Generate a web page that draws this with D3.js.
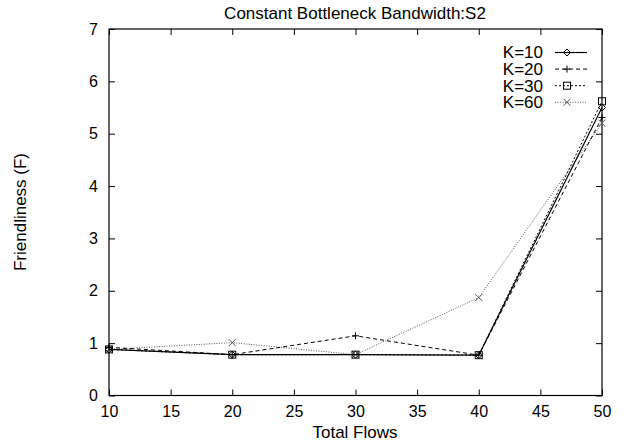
<!DOCTYPE html>
<html>
<head>
<meta charset="utf-8">
<script src="https://cdn.jsdelivr.net/npm/d3@7"></script>
<style>
  body { margin: 0; background: #fff; }
  svg text { font-family: "Liberation Sans", Arial, Helvetica, sans-serif; fill: #000; }
</style>
</head>
<body>
<svg id="chart" width="626" height="443"></svg>
<script>
// Friendliness vs. total flows, one series per K
const flows = [10, 20, 30, 40, 50];
const k10 = [0.88, 0.78, 0.78, 0.77, 5.50];
const k20 = [0.92, 0.78, 1.14, 0.77, 5.31];
const k30 = [0.88, 0.78, 0.78, 0.77, 5.62];
const k60 = [0.88, 1.01, 0.78, 1.87, 5.20];
const seriesNames = ["K=10", "K=20", "K=30", "K=60"];
const xTicks = [10, 15, 20, 25, 30, 35, 40, 45, 50];
const yTicks = [0, 1, 2, 3, 4, 5, 6, 7];

const series = [
  { name: seriesNames[0], values: k10, dash: null, color: "#000", width: 1.2, marker: "diamond" },
  { name: seriesNames[1], values: k20, dash: "4,3", color: "#000", width: 1, marker: "plus" },
  { name: seriesNames[2], values: k30, dash: "2,2", color: "#000", width: 1, marker: "square" },
  { name: seriesNames[3], values: k60, dash: "1,1.5", color: "#555", width: 1, marker: "cross" }
];

const svg = d3.select("#chart");
const plotLeft = 109, plotRight = 602, plotTop = 29, plotBottom = 395.5;

const x = d3.scaleLinear().domain([10, 50]).range([plotLeft, plotRight]);
const y = d3.scaleLinear().domain([0, 7]).range([plotBottom, plotTop]);

// frame
svg.append("rect")
  .attr("x", plotLeft).attr("y", plotTop)
  .attr("width", plotRight - plotLeft).attr("height", plotBottom - plotTop)
  .attr("fill", "none").attr("stroke", "#000").attr("stroke-width", 1.2);

// inward ticks on all four sides
const tickLen = 6;
const g = svg.append("g");
g.append("g").attr("transform", `translate(0,${plotBottom})`)
  .call(d3.axisBottom(x).tickValues(xTicks).tickSizeInner(-tickLen).tickSizeOuter(0).tickPadding(10).tickFormat(d3.format("d")))
  .call(s => s.select(".domain").remove())
  .call(s => s.selectAll("text").attr("font-size", 16).attr("dy", "0.71em"));
g.append("g").attr("transform", `translate(0,${plotTop})`)
  .call(d3.axisTop(x).tickValues(xTicks).tickSizeInner(-tickLen).tickSizeOuter(0).tickFormat(""))
  .call(s => s.select(".domain").remove());
g.append("g").attr("transform", `translate(${plotLeft},0)`)
  .call(d3.axisLeft(y).tickValues(yTicks).tickSizeInner(-tickLen).tickSizeOuter(0).tickPadding(11).tickFormat(d3.format("d")))
  .call(s => s.select(".domain").remove())
  .call(s => s.selectAll("text").attr("font-size", 16));
g.append("g").attr("transform", `translate(${plotRight},0)`)
  .call(d3.axisRight(y).tickValues(yTicks).tickSizeInner(-tickLen).tickSizeOuter(0).tickFormat(""))
  .call(s => s.select(".domain").remove());
g.selectAll(".tick line").attr("stroke", "#000");

// titles
svg.append("text").attr("x", 355).attr("y", 19).attr("text-anchor", "middle")
  .attr("font-size", 17).text("Constant Bottleneck Bandwidth:S2");
svg.append("text").attr("x", 355).attr("y", 438).attr("text-anchor", "middle")
  .attr("font-size", 17).text("Total Flows");
svg.append("text").attr("transform", "translate(26,212) rotate(-90)").attr("text-anchor", "middle")
  .attr("font-size", 17).text("Friendliness (F)");

// marker drawing
function drawMarker(sel, type, cx, cy, color) {
  const r = 3.5;
  if (type === "diamond") {
    sel.append("path").attr("d", `M${cx},${cy - r}L${cx + r},${cy}L${cx},${cy + r}L${cx - r},${cy}Z`)
      .attr("fill", "none").attr("stroke", color).attr("stroke-width", 1);
  } else if (type === "plus") {
    sel.append("path").attr("d", `M${cx - r},${cy}H${cx + r}M${cx},${cy - r}V${cy + r}`)
      .attr("stroke", color).attr("stroke-width", 1);
  } else if (type === "square") {
    sel.append("rect").attr("x", cx - r).attr("y", cy - r).attr("width", 2 * r).attr("height", 2 * r)
      .attr("fill", "none").attr("stroke", color).attr("stroke-width", 1);
  } else {
    sel.append("path").attr("d", `M${cx - r},${cy - r}L${cx + r},${cy + r}M${cx - r},${cy + r}L${cx + r},${cy - r}`)
      .attr("stroke", color).attr("stroke-width", 1);
  }
}

const line = d3.line().x((d, i) => x(flows[i])).y(d => y(d));
const plot = svg.append("g");
series.slice().reverse().forEach(s => {
  plot.append("path").datum(s.values)
    .attr("d", line).attr("fill", "none")
    .attr("stroke", s.color).attr("stroke-width", s.width)
    .attr("stroke-dasharray", s.dash);
  s.values.forEach((v, i) => drawMarker(plot, s.marker, x(flows[i]), y(v), s.color));
});

// legend
const legend = svg.append("g");
series.forEach((s, i) => {
  const ly = 52.5 + i * 16.6;
  legend.append("text").attr("x", 543).attr("y", ly).attr("dy", "0.35em")
    .attr("text-anchor", "end").attr("font-size", 17).text(s.name);
  legend.append("line").attr("x1", 555).attr("x2", 587).attr("y1", ly).attr("y2", ly)
    .attr("stroke", s.color).attr("stroke-width", s.width).attr("stroke-dasharray", s.dash);
  drawMarker(legend, s.marker, 567, ly, s.color);
});
</script>
</body>
</html>
